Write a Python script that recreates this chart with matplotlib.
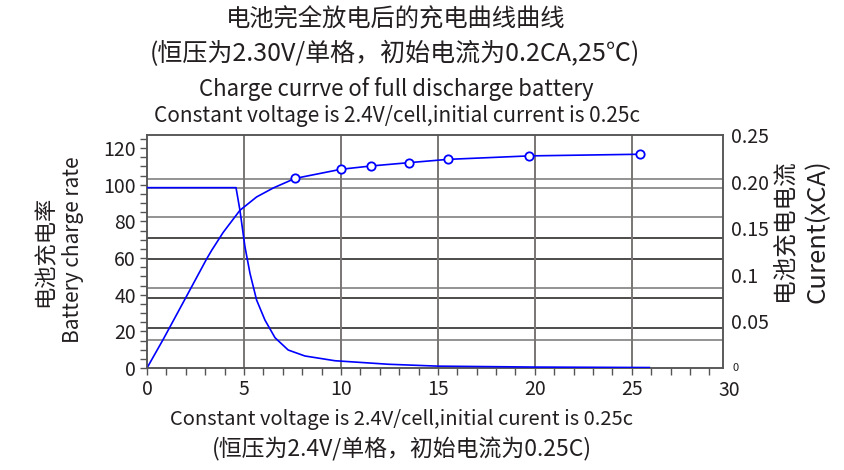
import matplotlib
matplotlib.use("Agg")
import matplotlib.pyplot as plt
from matplotlib.ticker import MultipleLocator, FixedLocator

plt.rcParams["font.family"] = ["Noto Sans CJK SC", "DejaVu Sans"]

# charge rate curve (left axis, %)
rate_x = [0, 0.84, 1.96, 3.08, 3.33, 3.93, 4.79, 5.65, 6.51, 7.63, 10.0, 11.55, 13.5, 15.5, 19.7, 25.4]
rate_y = [0, 15.7, 37.6, 59.6, 64.1, 74.0, 86.0, 93.3, 98.2, 103.4, 108.4, 110.2, 112.0, 113.8, 115.7, 116.6]
marker_start = 9  # circles from x=7.6 on

# charge current curve (right axis, xCA)
cur_x = [0, 4.59, 4.79, 5.05, 5.31, 5.65, 6.08, 6.60, 7.28, 8.14, 9.69, 12.46, 15.0, 20.0, 25.9]
cur_y = [0.1935, 0.1935, 0.1695, 0.1302, 0.1016, 0.0730, 0.0515, 0.0325, 0.0193, 0.0129,
         0.0078, 0.004, 0.002, 0.001, 0.0005]

# horizontal guide lines, in left-axis units
grid_gray = [103.0, 98.1, 82.2, 43.8, 15.3]
grid_dark = [70.7, 59.7, 38.4, 21.9]
grid_x = [5, 10, 15, 20, 25]

x_ticks = [0, 5, 10, 15, 20, 25]
left_ticks = [0, 20, 40, 60, 80, 100, 120]
right_ticks = [0.05, 0.1, 0.15, 0.2, 0.25]
right_labels = ["0.05", "0.1", "0.15", "0.20", "0.25"]

title_lines = [
    "电池完全放电后的充电曲线曲线",
    "(恒压为2.30V/单格，初始电流为0.2CA,25℃)",
    "Charge currve of full discharge battery",
    "Constant voltage is 2.4V/cell,initial current is 0.25c",
]
xlabel_lines = [
    "Constant voltage is 2.4V/cell,initial curent is 0.25c",
    "(恒压为2.4V/单格，初始电流为0.25C)",
]

TXT = "#231f20"
BLUE = "#0000ff"
W, H = 845, 470

fig = plt.figure(figsize=(W / 100, H / 100), dpi=100)
ax = fig.add_axes([147 / W, 1 - 368 / H, (723 - 147) / W, (368 - 135) / H])
ax2 = ax.twinx()

ax.set_xlim(0, 29.7)
ax.set_ylim(0, 127.1)
ax2.set_ylim(0, 0.25)

for v in grid_gray:
    ax.axhline(v, color="#8a8a8a", lw=1.3, zorder=1)
for v in grid_dark:
    ax.axhline(v, color="#1e1a1a", lw=1.1, zorder=1)
for v in grid_x:
    ax.axvline(v, color="#7a7575", lw=1.4, zorder=1)

ax.plot(rate_x, rate_y, color=BLUE, lw=1.2, zorder=3)
ax.plot(rate_x[marker_start:], rate_y[marker_start:], ls="none", marker="o", ms=6,
        mfc="white", mec=BLUE, mew=1.3, zorder=4)
ax2.plot(cur_x, cur_y, color=BLUE, lw=1.2, zorder=3)

ax.xaxis.set_major_locator(FixedLocator(x_ticks))
ax.xaxis.set_minor_locator(MultipleLocator(1))
ax.set_xticklabels([str(t) for t in x_ticks])
ax.yaxis.set_major_locator(FixedLocator(left_ticks))
ax.yaxis.set_minor_locator(MultipleLocator(5))
ax.set_yticklabels([str(t) for t in left_ticks])
ax.tick_params(axis="both", which="both", direction="out", length=5, width=1,
               color="#555555", labelcolor=TXT, labelsize=14)
ax.tick_params(axis="x", pad=3)
ax.tick_params(axis="y", pad=3)

# the 30 label sits just past the frame in the reference
ax.annotate("30", xy=(30, 0), xycoords=("data", "axes fraction"), xytext=(0, -8.5),
            textcoords="offset points", ha="center", va="top", fontsize=14,
            color=TXT, annotation_clip=False)

ax2.yaxis.set_major_locator(FixedLocator(right_ticks))
ax2.set_yticklabels(right_labels)
ax2.tick_params(axis="y", length=0, pad=6, labelsize=14, labelcolor=TXT)
ax2.text(1.017, 0.0, "0", transform=ax2.transAxes, ha="left", va="center",
         fontsize=8, color=TXT)

for a in (ax, ax2):
    for s in a.spines.values():
        s.set_color("#555555")
        s.set_linewidth(1.1)

# titles
fig.text(396 / W, 1 - 19 / H, title_lines[0], ha="center", va="center", fontsize=17.5, color=TXT)
fig.text(395 / W, 1 - 54 / H, title_lines[1], ha="center", va="center", fontsize=18, color=TXT)
fig.text(396 / W, 1 - 89 / H, title_lines[2], ha="center", va="center", fontsize=16, color=TXT)
fig.text(397 / W, 1 - 116 / H, title_lines[3], ha="center", va="center", fontsize=15, color=TXT)

fig.text(402 / W, 1 - 420 / H, xlabel_lines[0], ha="center", va="center", fontsize=14.5, color=TXT)
fig.text(402 / W, 1 - 449 / H, xlabel_lines[1], ha="center", va="center", fontsize=16.5, color=TXT)

# axis titles
fig.text(45 / W, 1 - 251 / H, "电池充电率", rotation=90, ha="center", va="center",
         fontsize=16, color=TXT)
fig.text(73 / W, 1 - 250 / H, "Battery charge rate", rotation=90, ha="center", va="center",
         fontsize=15, color=TXT)
fig.text(784 / W, 1 - 230 / H, "电池充电电流", rotation=90, ha="center", va="center",
         fontsize=17, color=TXT)
fig.text(818 / W, 1 - 231 / H, "Curent(xCA)", rotation=90, ha="center", va="center",
         fontsize=18.5, color=TXT)

fig.savefig("out.png", dpi=100)
